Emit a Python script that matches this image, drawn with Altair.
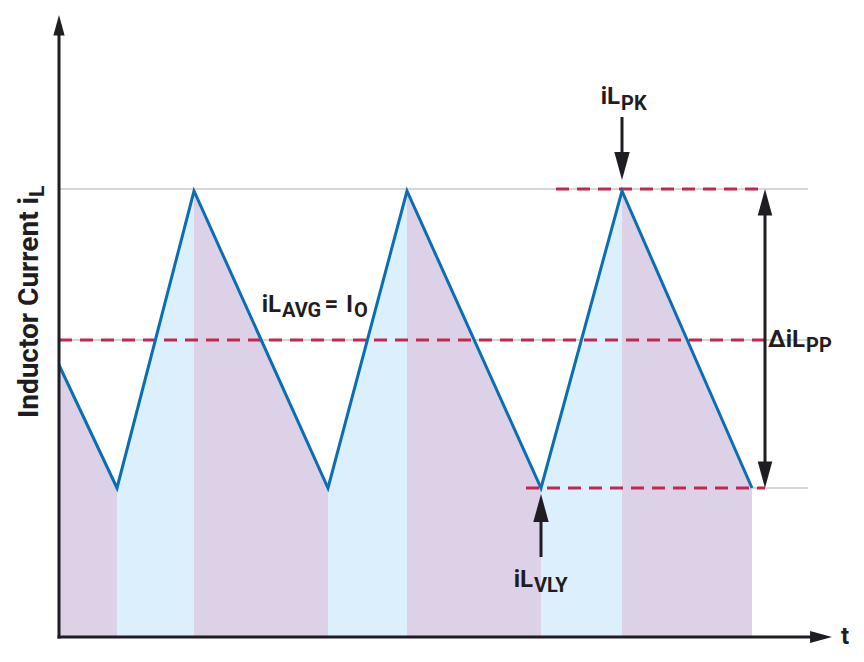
import altair as alt
import pandas as pd

# ---- data (time in arbitrary units, current in arbitrary units)
t_pts = [0.0, 0.58, 1.35, 2.69, 3.48, 4.82, 5.63, 6.93]
iL_pts = [2.72, 1.49, 4.46, 1.49, 4.46, 1.49, 4.46, 1.49]

iL_pk = 4.48
iL_vly = 1.49
iL_avg = 2.97

X_MAX = 7.73
Y_MAX = 6.22

# grey guide lines: level, start, end
grey_y = [iL_pk, iL_avg, iL_vly]
grey_x0 = [0.0, 0.0, 0.0]
grey_x1 = [7.49, 7.49, 7.49]

# red dashed lines
red_y = [iL_pk, iL_avg, iL_vly]
red_x0 = [4.97, 0.0, 4.67]
red_x1 = [7.06, 7.06, 7.06]

FONT = "Roboto, sans-serif"
BLACK = "#1f1d21"

# ---- tables
rows = []
for i in range(len(t_pts) - 1):
    kind = "rise" if iL_pts[i + 1] > iL_pts[i] else "fall"
    rows.append(dict(seg=i, t=t_pts[i], v=iL_pts[i], kind=kind))
    rows.append(dict(seg=i, t=t_pts[i + 1], v=iL_pts[i + 1], kind=kind))
seg_df = pd.DataFrame(rows)
wave_df = pd.DataFrame({"t": t_pts, "v": iL_pts})
grey_df = pd.DataFrame({"y": grey_y, "x0": grey_x0, "x1": grey_x1})
red_df = pd.DataFrame({"y": red_y, "x0": red_x0, "x1": red_x1})

xs = alt.Scale(domain=[0, X_MAX], nice=False, zero=False)
ys = alt.Scale(domain=[0, Y_MAX], nice=False, zero=False)


def X(f):
    return alt.X(f, type="quantitative", scale=xs, axis=None)


def Y(f):
    return alt.Y(f, type="quantitative", scale=ys, axis=None)


base = alt.Chart(wave_df)

grey = alt.Chart(grey_df).mark_rule(color="#c8c8c8", strokeWidth=1.5).encode(
    x=X("x0"), x2="x1", y=Y("y"))

areas = alt.Chart(seg_df).mark_area(opacity=1, strokeWidth=0).encode(
    x=X("t"), y=Y("v"), y2=alt.datum(0),
    color=alt.Color("kind:N", scale=alt.Scale(domain=["fall", "rise"],
                                              range=["#ddd1e7", "#dbf0fc"]), legend=None),
    detail="seg:N")

red = alt.Chart(red_df).mark_rule(color="#c1274f", strokeWidth=3, strokeDash=[13, 8]).encode(
    x=X("x0"), x2="x1", y=Y("y"))

wave = base.mark_line(color="#0a6eb4", strokeWidth=3, strokeJoin="miter").encode(
    x=X("t"), y=Y("v"))

# axes lines and arrow stems
stems_df = pd.DataFrame({
    "x": [0.0, 5.63, 4.82, 7.06],
    "y0": [-0.015, 4.75, 0.80, iL_vly + 0.1],
    "y1": [Y_MAX - 0.12, 5.20, 1.22, iL_pk - 0.1],
})
stems = alt.Chart(stems_df).mark_rule(color=BLACK, strokeWidth=3).encode(
    x=X("x"), y=Y("y0"), y2="y1")

xaxis_df = pd.DataFrame({"y": [0.0], "x0": [-0.015], "x1": [X_MAX - 0.12]})
xaxis = alt.Chart(xaxis_df).mark_rule(color=BLACK, strokeWidth=3).encode(
    x=X("x0"), x2="x1", y=Y("y"))

heads_df = pd.DataFrame({
    "x": [0.0, X_MAX, 5.63, 4.82, 7.06, 7.06],
    "y": [Y_MAX, 0.0, 4.57, 1.43, iL_pk, iL_vly],
    "ang": [0, 90, 180, 0, 0, 180],
    "sz": [420, 480, 784, 784, 700, 700],
})
heads = alt.Chart(heads_df).mark_point(
    shape="M0,0L-0.55,2L0.55,2Z", filled=True, color=BLACK, opacity=1, strokeWidth=0
).encode(x=X("x"), y=Y("y"), angle=alt.Angle("ang:Q", scale=None),
         size=alt.Size("sz:Q", scale=None))

# labels: main parts right-aligned, subscripts left-aligned
main_df = pd.DataFrame({
    "x": [5.61, 4.74, 2.22, 7.46],
    "y": [5.33, 0.50, 3.25, 2.90],
    "txt": ["iL", "iL", "iL", "ΔiL"],
})
sub_df = pd.DataFrame({
    "x": [5.62, 4.75, 2.23, 7.47, 2.95],
    "y": [5.27, 0.45, 3.20, 2.85, 3.20],
    "txt": ["PK", "VLY", "AVG", "PP", "O"],
})
extra_df = pd.DataFrame({
    "x": [2.655, 2.87],
    "y": [3.25, 3.25],
    "txt": ["=", "I"],
})
main_txt = alt.Chart(main_df).mark_text(
    font=FONT, fontSize=24, fontWeight="bold", color=BLACK, align="right", baseline="alphabetic"
).encode(x=X("x"), y=Y("y"), text="txt:N")
sub_txt = alt.Chart(sub_df).mark_text(
    font=FONT, fontSize=20, fontWeight="bold", color=BLACK, align="left", baseline="alphabetic"
).encode(x=X("x"), y=Y("y"), text="txt:N")
extra_txt = alt.Chart(extra_df).mark_text(
    font=FONT, fontSize=24, fontWeight="bold", color=BLACK, align="left", baseline="alphabetic"
).encode(x=X("x"), y=Y("y"), text="txt:N")

t_df = pd.DataFrame({"x": [7.86], "y": [0.0], "txt": ["t"]})
t_txt = alt.Chart(t_df).mark_text(
    font=FONT, fontSize=24, fontWeight="bold", color=BLACK, align="center", baseline="middle"
).encode(x=X("x"), y=Y("y"), text="txt:N")

ylab_df = pd.DataFrame({"x": [-0.21], "y": [4.40], "txt": ["Inductor Current i"]})
ylab = alt.Chart(ylab_df).mark_text(
    font=FONT, fontSize=28, fontWeight="bold", color=BLACK, align="right",
    baseline="alphabetic", angle=270
).encode(x=X("x"), y=Y("y"), text="txt:N")
ylab_sub_df = pd.DataFrame({"x": [-0.15], "y": [4.40], "txt": ["L"]})
ylab_sub = alt.Chart(ylab_sub_df).mark_text(
    font=FONT, fontSize=21, fontWeight="bold", color=BLACK, align="left",
    baseline="alphabetic", angle=270
).encode(x=X("x"), y=Y("y"), text="txt:N")

chart = alt.layer(
    grey, areas, red, wave, stems, xaxis, heads,
    main_txt, sub_txt, extra_txt, t_txt, ylab, ylab_sub
).properties(
    width=773, height=622,
    autosize=alt.AutoSizeParams(type="none"),
    padding={"left": 51, "top": 7, "right": 24, "bottom": 12},
    background="white",
).configure_view(stroke=None)

chart.save("out.html", embed_options={"renderer": "svg", "actions": False})
